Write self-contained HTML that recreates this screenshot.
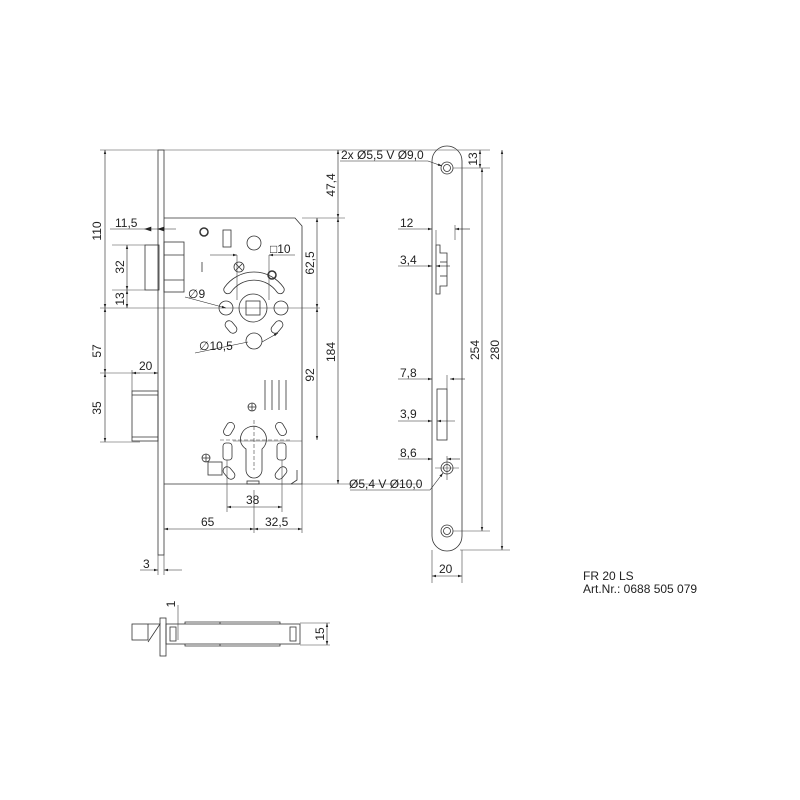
<!DOCTYPE html>
<html><head><meta charset="utf-8"><style>
html,body{margin:0;padding:0;background:#fff;}
svg{display:block;}
text{font-family:"Liberation Sans",Arial,sans-serif;font-size:12px;fill:#222;}
</style></head><body>
<svg width="800" height="800" viewBox="0 0 800 800" xmlns="http://www.w3.org/2000/svg">
<defs>
<marker id="a" viewBox="0 0 10 10" refX="10" refY="5" markerWidth="7" markerHeight="7" orient="auto-start-reverse"><path d="M0,2 L10,5 L0,8 z" fill="#222"/></marker>
</defs>
<g stroke="#333" stroke-width="0.8" fill="none">
<rect x="158" y="150" width="6" height="405"/>
<path d="M164,218 H295 L302,226 V484 H164"/>
<rect x="145" y="245" width="14" height="45"/>
<rect x="164" y="242" width="20" height="50"/>
<line x1="164" y1="255" x2="184" y2="255"/><line x1="164" y1="280" x2="184" y2="280"/>
<rect x="132" y="391" width="26" height="50"/>
<line x1="132" y1="395" x2="158" y2="395"/><line x1="132" y1="437" x2="158" y2="437"/>
<circle cx="204" cy="232" r="4" stroke-width="1.5"/>
<rect x="223" y="230" width="8" height="17"/>
<circle cx="254" cy="243" r="7"/>
<line x1="202" y1="262" x2="202" y2="272"/>
<circle cx="239" cy="267" r="5"/><path d="M236,264 l6,6 M242,264 l-6,6"/>
<circle cx="272" cy="275" r="4" stroke-width="1.5"/>
<path d="M224.5,287.4 A36,36 0 0 1 283.5,287.4 A4,4 0 0 1 276.9,292 A28,28 0 0 0 231.1,292 A4,4 0 0 1 224.5,287.4 Z"/>
<circle cx="253" cy="308" r="14"/>
<rect x="246" y="301" width="14" height="14"/>
<circle cx="226" cy="308" r="7"/><circle cx="281" cy="308" r="7"/>
<circle cx="254" cy="341" r="8"/>
<rect x="227" y="320" width="8" height="14" rx="4" transform="rotate(-40 231 327)"/>
<rect x="273" y="320" width="8" height="14" rx="4" transform="rotate(40 277 327)"/>
<line x1="265" y1="380" x2="265" y2="410"/><line x1="272" y1="380" x2="272" y2="410"/><line x1="279" y1="380" x2="279" y2="410"/><line x1="286" y1="380" x2="286" y2="410"/>
<circle cx="252" cy="407" r="4"/><path d="M248,407 h8 M252,403 v8"/>
<circle cx="206" cy="458" r="4"/><path d="M202,458 h8 M206,454 v8"/>
<rect x="208" y="462" width="14" height="13"/>
<path d="M241,443 A13,13 0 1 1 262,449 V470 A8,8 0 0 1 246,470 V449 A13,13 0 0 1 241,443"/>
<rect x="223" y="443" width="9" height="17" rx="3"/><rect x="277" y="443" width="9" height="17" rx="3"/>
<rect x="225" y="422" width="8" height="14" rx="4" transform="rotate(30 229 429)"/>
<rect x="277" y="422" width="8" height="14" rx="4" transform="rotate(-30 281 429)"/>
<rect x="225" y="466" width="8" height="14" rx="4" transform="rotate(-40 229 473)"/>
<rect x="277" y="466" width="8" height="14" rx="4" transform="rotate(40 281 473)"/>
<rect x="247" y="481" width="12" height="3"/>
<path d="M297,470 v10 l-6,4"/>
</g>
<g stroke="#444" stroke-width="0.6" fill="none">
<line x1="100" y1="150" x2="340" y2="150"/>
<line x1="302" y1="218" x2="345" y2="218"/>
<line x1="100" y1="308" x2="320" y2="308"/>
<line x1="100" y1="373" x2="140" y2="373"/>
<line x1="100" y1="442" x2="140" y2="442"/>
<line x1="302" y1="484" x2="345" y2="484"/>
<line x1="112" y1="245" x2="145" y2="245"/>
<line x1="112" y1="290" x2="145" y2="290"/>
<line x1="233" y1="441" x2="302" y2="441"/>
<line x1="227" y1="460" x2="227" y2="512"/><line x1="282" y1="460" x2="282" y2="512"/>
<line x1="254" y1="490" x2="254" y2="533"/><line x1="302" y1="484" x2="302" y2="533"/>
<line x1="164" y1="555" x2="164" y2="575"/><line x1="158" y1="555" x2="158" y2="575"/>
<line x1="132" y1="370" x2="132" y2="391"/>
<line x1="237" y1="255" x2="237" y2="300"/><line x1="269" y1="255" x2="269" y2="300"/>
<line x1="220" y1="440" x2="290" y2="440" stroke-dasharray="4,2"/>
<line x1="254" y1="420" x2="254" y2="470" stroke-dasharray="4,2"/>
</g>
<g stroke="#222" stroke-width="0.6" fill="none" marker-start="url(#a)" marker-end="url(#a)">
<line x1="105" y1="150" x2="105" y2="308"/>
<line x1="105" y1="308" x2="105" y2="373"/>
<line x1="105" y1="373" x2="105" y2="442"/>
<line x1="127" y1="245" x2="127" y2="290"/>
<line x1="127" y1="290" x2="127" y2="308"/>
<line x1="338" y1="150" x2="338" y2="218"/>
<line x1="338" y1="218" x2="338" y2="484"/>
<line x1="317" y1="218" x2="317" y2="308"/>
<line x1="317" y1="308" x2="317" y2="440"/>
<line x1="227" y1="507" x2="282" y2="507"/>
<line x1="164" y1="529" x2="254" y2="529"/>
<line x1="254" y1="529" x2="302" y2="529"/>
<line x1="132" y1="373" x2="158" y2="373"/>
</g>
<g stroke="#222" stroke-width="0.6" fill="none">
<line x1="110" y1="229" x2="176" y2="229"/><path d="M145,229 l6,-2 v4z M158,229 l6,-2 v4z" fill="#222"/>
<line x1="210" y1="255" x2="237" y2="255" marker-end="url(#a)"/><line x1="295" y1="255" x2="269" y2="255" marker-end="url(#a)"/>
<line x1="185" y1="297" x2="226" y2="308" marker-end="url(#a)"/>
<line x1="195" y1="353" x2="248" y2="342"/><line x1="262" y1="342" x2="278" y2="333" marker-end="url(#a)"/>
<line x1="140" y1="570" x2="158" y2="570" marker-end="url(#a)"/><line x1="182" y1="570" x2="164" y2="570" marker-end="url(#a)"/>
</g>
<g stroke="#333" stroke-width="0.8" fill="none">
<path d="M432,161 A15,15 0 0 1 462,161 V536 A15,15 0 0 1 432,536 Z"/>
<circle cx="447" cy="168" r="6"/><circle cx="447" cy="168" r="3.5"/>
<circle cx="447" cy="468" r="6"/><circle cx="447" cy="468" r="3.5"/>
<circle cx="447" cy="531" r="6"/><circle cx="447" cy="531" r="3.5"/>
<path d="M436,245 h4 v8 h7 v33 h-7 v8 h-4 z"/>
<line x1="440" y1="262" x2="447" y2="262"/><line x1="440" y1="276" x2="447" y2="276"/>
<rect x="437" y="389" width="10" height="51"/>
</g>
<g stroke="#444" stroke-width="0.6" fill="none">
<line x1="340" y1="150" x2="490" y2="150"/><line x1="453" y1="168" x2="490" y2="168"/>
<line x1="453" y1="531" x2="490" y2="531"/><line x1="460" y1="550" x2="510" y2="550"/>
<line x1="432" y1="550" x2="432" y2="583"/><line x1="462" y1="550" x2="462" y2="583"/>
<line x1="447" y1="456" x2="447" y2="480"/><line x1="435" y1="468" x2="459" y2="468"/>
<line x1="436" y1="230" x2="436" y2="245"/><line x1="455" y1="225" x2="455" y2="240"/>
<line x1="447" y1="375" x2="447" y2="389"/><line x1="345" y1="484" x2="420" y2="484"/>
</g>
<g stroke="#222" stroke-width="0.6" fill="none">
<line x1="480" y1="150" x2="480" y2="168" marker-start="url(#a)" marker-end="url(#a)"/>
<line x1="482" y1="168" x2="482" y2="531" marker-start="url(#a)" marker-end="url(#a)"/>
<line x1="502" y1="150" x2="502" y2="550" marker-start="url(#a)" marker-end="url(#a)"/>
<line x1="432" y1="576" x2="462" y2="576" marker-start="url(#a)" marker-end="url(#a)"/>
<line x1="398" y1="229" x2="432" y2="229" marker-end="url(#a)"/><line x1="470" y1="229" x2="455" y2="229" marker-end="url(#a)"/>
<line x1="398" y1="266" x2="432" y2="266" marker-end="url(#a)"/><line x1="450" y1="266" x2="436" y2="266" marker-end="url(#a)"/>
<line x1="398" y1="379" x2="432" y2="379" marker-end="url(#a)"/><line x1="465" y1="379" x2="450" y2="379" marker-end="url(#a)"/>
<line x1="398" y1="421" x2="432" y2="421" marker-end="url(#a)"/><line x1="455" y1="421" x2="437" y2="421" marker-end="url(#a)"/>
<line x1="398" y1="459" x2="432" y2="459" marker-end="url(#a)"/><line x1="460" y1="459" x2="447" y2="459" marker-end="url(#a)"/>
<line x1="340" y1="161" x2="428" y2="161"/><line x1="428" y1="161" x2="442" y2="166" marker-end="url(#a)"/>
<line x1="350" y1="490" x2="430" y2="490"/><line x1="430" y1="490" x2="443" y2="473" marker-end="url(#a)"/>
</g>
<g stroke="#333" stroke-width="0.8" fill="none">
<rect x="132" y="624" width="16" height="16"/>
<path d="M148,624 h12 l-12,18"/>
<rect x="160" y="618" width="6" height="38"/>
<rect x="166" y="624" width="134" height="20"/>
<rect x="170" y="627" width="6" height="14"/>
<rect x="290" y="627" width="6" height="14"/>
<path d="M185,624 v-2 h35 v2 M185,644 v2 h35 v-2 M220,624 v-2 h60 v2 M220,644 v2 h60 v-2"/>
</g>
<g stroke="#444" stroke-width="0.6" fill="none">
<line x1="178" y1="605" x2="178" y2="640"/>
<line x1="300" y1="623" x2="330" y2="623"/><line x1="300" y1="645" x2="330" y2="645"/>
<line x1="327" y1="623" x2="327" y2="645" stroke="#222" marker-start="url(#a)" marker-end="url(#a)"/>
</g>
<text x="115" y="227">11,5</text>
<text transform="translate(101,231) rotate(-90)" text-anchor="middle">110</text>
<text transform="translate(124,267) rotate(-90)" text-anchor="middle">32</text>
<text transform="translate(124,299) rotate(-90)" text-anchor="middle">13</text>
<text transform="translate(101,351) rotate(-90)" text-anchor="middle">57</text>
<text transform="translate(101,408) rotate(-90)" text-anchor="middle">35</text>
<text x="139" y="370">20</text>
<text transform="translate(335,185) rotate(-90)" text-anchor="middle">47,4</text>
<text transform="translate(314,263) rotate(-90)" text-anchor="middle">62,5</text>
<text transform="translate(314,375) rotate(-90)" text-anchor="middle">92</text>
<text transform="translate(335,352) rotate(-90)" text-anchor="middle">184</text>
<text x="270" y="253">□10</text>
<text x="188" y="298">∅9</text>
<text x="199" y="350">∅10,5</text>
<text x="246" y="504">38</text>
<text x="201" y="526">65</text>
<text x="265" y="526">32,5</text>
<text x="143" y="568">3</text>
<text x="341" y="159">2x Ø5,5 V Ø9,0</text>
<text x="349" y="488">Ø5,4 V Ø10,0</text>
<text transform="translate(477,159) rotate(-90)" text-anchor="middle">13</text>
<text transform="translate(479,350) rotate(-90)" text-anchor="middle">254</text>
<text transform="translate(499,350) rotate(-90)" text-anchor="middle">280</text>
<text x="400" y="227">12</text>
<text x="400" y="264">3,4</text>
<text x="400" y="377">7,8</text>
<text x="400" y="418">3,9</text>
<text x="400" y="457">8,6</text>
<text x="439" y="573">20</text>
<text x="583" y="580">FR 20 LS</text>
<text x="583" y="593">Art.Nr.: 0688 505 079</text>
<text transform="translate(175,604) rotate(-90)" text-anchor="middle">1</text>
<text transform="translate(324,634) rotate(-90)" text-anchor="middle">15</text>
</svg>
</body></html>
